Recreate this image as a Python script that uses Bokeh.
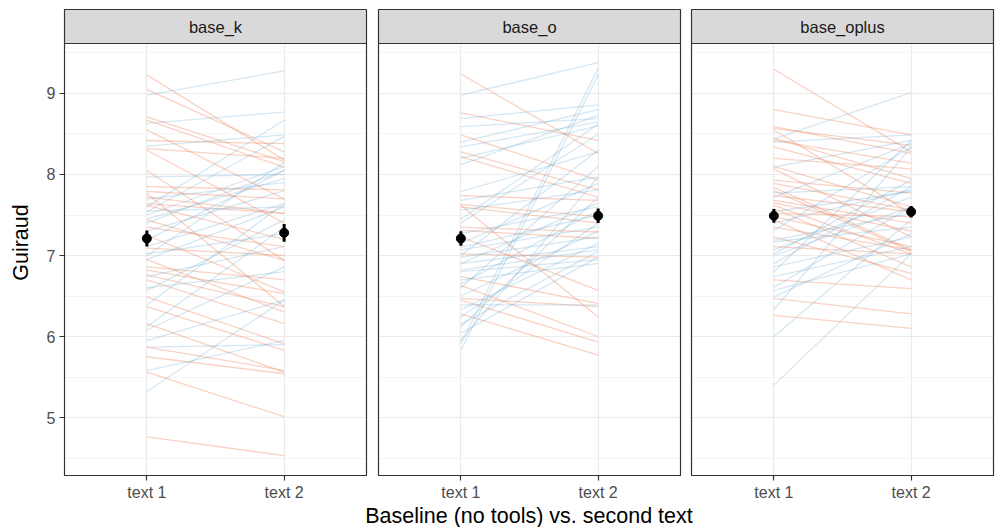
from bokeh.plotting import figure
from bokeh.models import FixedTicker, ColumnDataSource, CustomJSTickFormatter
from bokeh.core.properties import value
from bokeh.embed import file_html
from bokeh.resources import INLINE

panels = ["base_k", "base_o", "base_oplus"]
x_labels = ["text 1", "text 2"]
x_title = "Baseline (no tools) vs. second text"
y_title = "Guiraud"
y_ticks = [5, 6, 7, 8, 9]
y_minor = [4.5, 5.5, 6.5, 7.5, 8.5, 9.5]

# per-participant values (text 1, text 2) for each panel
k_t1 = [8.98, 9.23, 9.05, 8.63, 8.71, 8.67, 8.42, 8.32, 8.35, 8.05, 7.97, 7.85, 7.79, 7.77, 7.72,
        7.64, 7.60, 7.54, 7.44, 7.35, 7.40, 7.19, 7.11, 7.09, 7.02, 6.86, 6.82, 6.76, 6.74, 6.57,
        6.70, 6.49, 6.39, 6.37, 6.12, 6.08, 6.16, 5.95, 5.87, 5.87, 5.75, 5.58, 5.56, 5.32, 4.76,
        7.50, 7.30, 6.95, 8.30, 6.60, 7.62, 7.70, 7.25, 7.00, 8.55, 7.55, 6.95, 7.45]
k_t2 = [9.28, 8.18, 8.28, 8.77, 8.16, 8.09, 8.38, 8.20, 8.49, 6.94, 8.00, 7.81, 7.70, 6.37, 7.52,
        7.52, 8.67, 8.47, 6.94, 7.11, 8.05, 8.05, 7.64, 7.00, 7.27, 6.70, 6.53, 6.37, 7.11, 7.44,
        6.16, 5.91, 7.64, 5.83, 7.35, 6.86, 5.56, 6.45, 5.90, 5.58, 5.54, 5.95, 5.01, 6.45, 4.53,
        8.10, 7.80, 7.60, 7.40, 6.80, 7.20, 7.90, 6.55, 8.15, 7.70, 7.60, 6.30, 7.95]

o_t1 = [8.98, 9.24, 5.91, 5.83, 8.76, 8.69, 8.59, 8.49, 8.34, 8.28, 8.22, 8.12, 7.79, 7.74, 7.68,
        7.63, 7.62, 7.60, 7.56, 7.35, 7.31, 7.23, 7.27, 7.15, 7.07, 7.02, 6.98, 6.90, 6.82, 6.74,
        6.70, 6.65, 6.63, 6.47, 6.45, 6.39, 6.33, 6.24, 6.28, 6.12, 6.04, 5.95,
        7.40, 7.00, 6.60, 6.90, 6.50, 7.45, 6.15, 8.40, 8.20, 7.10, 6.80]
o_t2 = [9.38, 8.26, 9.31, 9.23, 8.42, 8.86, 8.69, 7.93, 8.65, 7.81, 7.72, 8.73, 8.28, 7.68, 7.97,
        7.48, 6.24, 7.40, 7.81, 7.29, 7.21, 6.57, 7.60, 7.89, 7.35, 6.98, 7.23, 7.11, 7.07, 6.41,
        6.90, 7.56, 6.00, 6.37, 5.93, 6.39, 7.15, 7.40, 5.77, 7.72, 6.98, 7.97,
        8.50, 8.30, 8.10, 7.65, 7.30, 8.62, 7.05, 8.80, 8.60, 7.50, 6.95]

p_t1 = [9.30, 8.44, 8.80, 8.59, 8.57, 8.55, 8.42, 8.40, 8.34, 8.20, 8.09, 8.07, 7.93, 7.89, 7.84,
        7.77, 7.74, 7.72, 7.68, 7.62, 7.58, 7.54, 7.52, 7.48, 7.44, 7.40, 7.35, 7.31, 7.19, 7.23,
        7.17, 7.11, 7.07, 6.86, 6.80, 6.74, 6.70, 6.61, 6.57, 6.49, 6.47, 6.33, 6.26, 6.00, 5.40,
        7.02, 8.10, 7.80, 7.65, 7.00, 6.90, 8.45]
p_t2 = [8.28, 9.01, 8.49, 8.26, 8.36, 7.52, 8.14, 8.49, 7.89, 8.07, 8.42, 7.23, 7.77, 7.56, 7.07,
        7.85, 7.54, 8.38, 7.40, 7.02, 6.86, 7.79, 7.48, 7.11, 6.70, 7.81, 7.07, 8.34, 7.52, 6.78,
        7.35, 7.02, 7.72, 7.23, 8.42, 7.11, 6.59, 7.60, 7.02, 7.27, 6.28, 8.34, 6.10, 7.44, 7.02,
        7.93, 7.60, 7.05, 7.30, 7.60, 7.85, 7.95]

series_t1 = [k_t1, o_t1, p_t1]
series_t2 = [k_t2, o_t2, p_t2]

# summary points (mean +/- se)
mean_t1 = [7.21, 7.21, 7.49]
mean_t2 = [7.28, 7.49, 7.54]
se_t1 = [0.10, 0.09, 0.085]
se_t2 = [0.11, 0.09, 0.07]

UP = "#67A9CF"
DOWN = "#EF8A62"
FONT = "Liberation Sans"
BORDER = "#333333"

# ---- layout (facet geometry) ----
PANEL_PX = 302.0
UNIT_PX = PANEL_PX / 2.2          # pixels per x unit (discrete scale, 0.6 expansion)
GAP_PX = [0, 12, 11]
offsets = []
acc = 0.0
for i in range(3):
    acc += GAP_PX[i] / UNIT_PX + (2.2 if i > 0 else 0.0)
    offsets.append(acc)
Y_LO, Y_HI = 4.284, 10.037        # panel bottom .. strip top
PANEL_TOP = 9.617                 # panel top / strip bottom
PAD = 2                           # px of frame padding around the facets
Y_PX = 81.0                       # pixels per y unit
XPAD = PAD / UNIT_PX
YPAD = PAD / Y_PX
X0, X1 = offsets[0] + 0.4 - XPAD, offsets[2] + 2.6 + XPAD
YLO, YHI = Y_LO - YPAD, Y_HI + YPAD

p = figure(frame_width=int(round(3 * PANEL_PX + sum(GAP_PX))) + 2 * PAD, frame_height=466 + 2 * PAD,
           x_range=(X0, X1), y_range=(YLO, YHI),
           output_backend="svg", toolbar_location=None,
           min_border_left=64 - PAD, min_border_right=4 - PAD, min_border_top=9 - PAD,
           min_border_bottom=52 - PAD)
p.background_fill_color = "white"
p.border_fill_color = "white"
p.outline_line_color = None

tick_pos = []
for off in offsets:
    tick_pos += [off + 1, off + 2]
yt = FixedTicker(ticks=y_ticks, minor_ticks=y_minor)
xt = FixedTicker(ticks=tick_pos, minor_ticks=[])
p.yaxis.ticker = yt
p.xaxis.ticker = xt
p.ygrid.ticker = yt
p.xgrid.ticker = xt
p.ygrid.grid_line_color = "#EBEBEB"
p.ygrid.grid_line_width = 1.2
p.ygrid.minor_grid_line_color = "#EFEFEF"
p.ygrid.minor_grid_line_width = 0.7
p.xgrid.grid_line_color = "#EBEBEB"
p.xgrid.grid_line_width = 1.2
p.xaxis.formatter = CustomJSTickFormatter(args=dict(labs=x_labels),
                                          code="return labs[index % 2];")

for ax in (p.xaxis[0], p.yaxis[0]):
    ax.axis_line_color = None
    ax.major_tick_line_color = BORDER
    ax.major_tick_line_width = 1.2
    ax.major_tick_out = 3
    ax.major_tick_in = PAD
    ax.minor_tick_line_color = None
    ax.major_label_text_font = FONT
    ax.major_label_text_font_size = "16px"
    ax.major_label_text_color = "#4D4D4D"
    ax.major_label_standoff = 3
    ax.axis_label_text_font = FONT
    ax.axis_label_text_font_size = "21.5px"
    ax.axis_label_text_font_style = "normal"
    ax.axis_label_text_color = "#000000"
p.yaxis.axis_label = y_title
p.yaxis.axis_label_standoff = 11
p.xaxis.axis_label = x_title
p.xaxis.axis_label_standoff = 0

for i, name in enumerate(panels):
    off = offsets[i]
    t1 = series_t1[i]
    t2 = series_t2[i]
    xs = [[off + 1, off + 2] for _ in t1]
    ys = [[a, b] for a, b in zip(t1, t2)]
    cols = [UP if b >= a else DOWN for a, b in zip(t1, t2)]
    alphas = [0.28 if b >= a else 0.38 for a, b in zip(t1, t2)]
    src = ColumnDataSource(dict(xs=xs, ys=ys, c=cols, a=alphas))
    p.multi_line(xs="xs", ys="ys", line_color="c", line_alpha="a", line_width=1.3, source=src)

    mx = [off + 1, off + 2]
    my = [mean_t1[i], mean_t2[i]]
    lo = [mean_t1[i] - se_t1[i], mean_t2[i] - se_t2[i]]
    hi = [mean_t1[i] + se_t1[i], mean_t2[i] + se_t2[i]]
    p.segment(x0=mx, y0=lo, x1=mx, y1=hi, line_color="black", line_width=3)
    p.scatter(x=mx, y=my, size=9, color="black")

# white masks for the gaps between facets and the padding around them
lefts = [offsets[i] + 0.4 for i in range(3)]
rights = [offsets[i] + 2.6 for i in range(3)]
mask_l = [X0] + rights
mask_r = lefts + [X1]
p.quad(left=mask_l, right=mask_r, bottom=[YLO] * 4, top=[YHI] * 4,
       fill_color="white", line_color=None)
p.quad(left=[X0, X0], right=[X1, X1], bottom=[YLO, Y_HI], top=[Y_LO, YHI],
       fill_color="white", line_color=None)

# panel borders and strips
p.quad(left=lefts, right=rights, bottom=[Y_LO] * 3, top=[PANEL_TOP] * 3,
       fill_alpha=0, line_color=BORDER, line_width=1.2)
p.quad(left=lefts, right=rights, bottom=[PANEL_TOP] * 3, top=[Y_HI] * 3,
       fill_color="#D9D9D9", line_color=BORDER, line_width=1.2)
p.text(x=[o + 1.5 for o in offsets], y=[(PANEL_TOP + Y_HI) / 2] * 3, text=panels,
       text_align="center", text_baseline="middle", text_font=value(FONT),
       text_font_size="16.5px", text_color="#1A1A1A")

open("out.html", "w").write(file_html(p, INLINE))
